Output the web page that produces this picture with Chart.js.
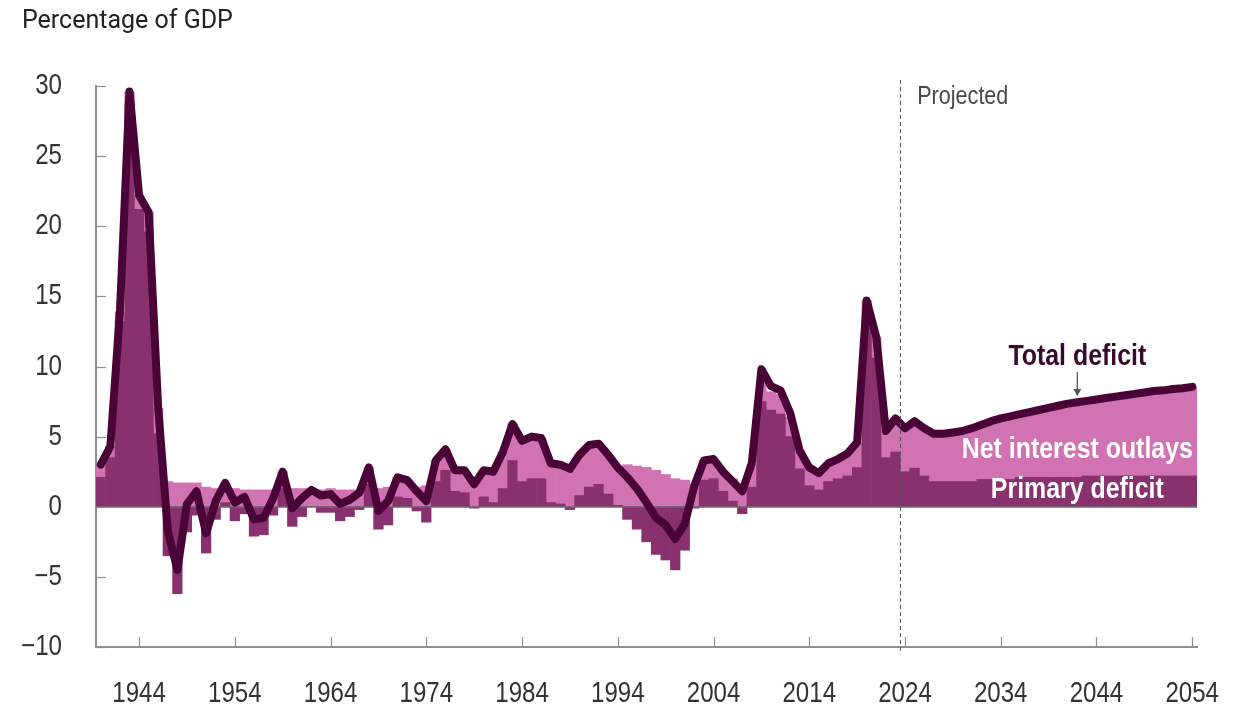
<!DOCTYPE html>
<html><head><meta charset="utf-8">
<script src="https://cdn.jsdelivr.net/npm/chart.js@4.4.1/dist/chart.umd.min.js"></script>
<style>html,body{margin:0;padding:0;background:#fff;}#wrap{width:1244px;height:708px;}</style>
</head><body><div id="wrap"><canvas id="c" width="1244" height="708"></canvas></div>
<script>
const years = [1940,1941,1942,1943,1944,1945,1946,1947,1948,1949,
1950,1951,1952,1953,1954,1955,1956,1957,1958,1959,
1960,1961,1962,1963,1964,1965,1966,1967,1968,1969,
1970,1971,1972,1973,1974,1975,1976,1977,1978,1979,
1980,1981,1982,1983,1984,1985,1986,1987,1988,1989,
1990,1991,1992,1993,1994,1995,1996,1997,1998,1999,
2000,2001,2002,2003,2004,2005,2006,2007,2008,2009,
2010,2011,2012,2013,2014,2015,2016,2017,2018,2019,
2020,2021,2022,2023,2024,2025,2026,2027,2028,2029,
2030,2031,2032,2033,2034,2035,2036,2037,2038,2039,
2040,2041,2042,2043,2044,2045,2046,2047,2048,2049,
2050,2051,2052,2053,2054];

const totalDeficit = [3.0,4.3,13.9,29.6,22.2,21.0,7.0,-1.7,-4.5,0.2,
1.1,-1.9,0.4,1.7,0.3,0.7,-0.9,-0.8,0.6,2.5,
-0.1,0.6,1.2,0.8,0.9,0.2,0.5,1.0,2.8,-0.3,
0.4,2.1,1.9,1.1,0.4,3.3,4.1,2.6,2.6,1.6,
2.6,2.5,3.9,5.9,4.7,5.0,4.9,3.1,3.0,2.7,
3.7,4.4,4.5,3.7,2.8,2.1,1.3,0.3,-0.8,-1.3,
-2.3,-1.2,1.5,3.3,3.4,2.5,1.8,1.1,3.1,9.8,
8.6,8.3,6.7,4.0,2.8,2.4,3.1,3.4,3.8,4.6,
14.7,12.1,5.4,6.3,5.6,6.1,5.6,5.2,5.2,5.3,
5.4,5.6,5.85,6.1,6.3,6.45,6.6,6.75,6.9,7.05,
7.2,7.35,7.45,7.55,7.65,7.75,7.85,7.95,8.05,8.15,
8.25,8.3,8.4,8.45,8.55];

const primaryDeficit = [2.1,3.5,13.2,28.8,21.2,19.6,5.2,-3.5,-6.2,-1.8,
-0.6,-3.3,-0.9,0.3,-1.0,-0.5,-2.1,-2.0,-0.6,1.3,
-1.4,-0.7,0.0,-0.4,-0.4,-1.0,-0.7,-0.2,1.6,-1.6,
-1.3,0.7,0.6,-0.3,-1.1,1.8,2.6,1.1,1.0,-0.1,
0.7,0.3,1.3,3.3,1.8,2.0,2.0,0.3,0.2,-0.2,
0.8,1.4,1.6,0.9,0.1,-0.9,-1.6,-2.5,-3.4,-3.8,
-4.5,-3.1,-0.1,1.9,2.0,1.1,0.4,-0.5,1.4,7.5,
6.9,6.6,5.0,2.7,1.5,1.2,1.8,2.0,2.2,2.8,
13.1,10.6,3.5,3.9,2.5,2.75,2.2,1.8,1.8,1.8,
1.8,1.8,1.95,1.95,1.95,1.95,2.1,2.1,2.1,2.1,
2.1,2.1,2.1,2.2,2.2,2.2,2.2,2.2,2.2,2.2,
2.2,2.2,2.2,2.2,2.2];

const netInterest = [0.9,0.8,0.7,0.8,1.0,1.4,1.8,1.8,1.7,1.7,
1.7,1.4,1.3,1.4,1.3,1.2,1.2,1.2,1.2,1.2,
1.3,1.3,1.2,1.2,1.3,1.2,1.2,1.2,1.2,1.3,
1.4,1.4,1.3,1.4,1.5,1.5,1.5,1.5,1.6,1.7,
1.9,2.2,2.6,2.6,2.9,3.0,2.9,2.8,2.8,2.9,
2.9,3.0,2.9,2.8,2.7,3.0,2.9,2.8,2.6,2.3,
2.0,1.9,1.6,1.4,1.3,1.4,1.6,1.6,1.6,1.3,
1.3,1.4,1.4,1.3,1.3,1.2,1.3,1.4,1.6,1.8,
1.6,1.5,1.9,2.4,3.1,3.35,3.4,3.4,3.4,3.5,
3.6,3.8,3.9,4.15,4.35,4.5,4.5,4.65,4.8,4.95,
5.1,5.25,5.35,5.35,5.45,5.55,5.65,5.75,5.85,5.95,
6.05,6.1,6.2,6.25,6.35];

const xTickYears = [1944,1954,1964,1974,1984,1994,2004,2014,2024,2034,2044,2054];
const yTickValues = [-10,-5,0,5,10,15,20,25,30];
const lastActualYear = 2023;

const COLORS = { line:'#4a0336', primary:'#89316f', interest:'#d172b2', axis:'#8f8f8f', zero:'#6b6b6b', text:'#333333' };
const SANS = "'Liberation Sans', Arial, sans-serif";
const NARROW_X = 0.83; // horizontal compression to emulate a narrow face

function narrowText(ctx, text, x, y, font, align, color) {
  ctx.save();
  ctx.translate(x, y);
  ctx.scale(NARROW_X, 1);
  ctx.font = font; ctx.fillStyle = color; ctx.textAlign = align; ctx.textBaseline = 'middle';
  ctx.fillText(text, 0, 0);
  ctx.restore();
}

const decor = {
  id: 'decor',
  beforeDatasetDraw(chart, args) {
    if (args.index !== 2) return;
    const {ctx, chartArea, scales:{y}} = chart;
    const y0 = Math.round(y.getPixelForValue(0));
    ctx.save();
    ctx.strokeStyle = COLORS.zero; ctx.lineWidth = 1.6;
    ctx.beginPath(); ctx.moveTo(chartArea.left, y0); ctx.lineTo(chartArea.right, y0); ctx.stroke();
    ctx.restore();
  },
  afterDraw(chart) {
    const {ctx, chartArea, scales:{x, y}} = chart;
    ctx.save();
    ctx.strokeStyle = COLORS.axis; ctx.lineWidth = 1.2;
    y.ticks.forEach(t => {
      const py = y.getPixelForValue(t.value);
      ctx.beginPath(); ctx.moveTo(chartArea.left, Math.round(py) + 0.5); ctx.lineTo(chartArea.left + 10, Math.round(py) + 0.5); ctx.stroke();
      const lbl = t.value < 0 ? '\u2212' + Math.abs(t.value) : String(t.value);
      narrowText(ctx, lbl, chartArea.left - 34, py, '29px ' + SANS, 'right', COLORS.text);
    });
    ctx.strokeStyle = COLORS.axis; ctx.lineWidth = 1.2;
    xTickYears.forEach(yr => {
      const px = x.getPixelForValue(years.indexOf(yr));
      ctx.beginPath(); ctx.moveTo(Math.round(px) + 0.5, chartArea.bottom); ctx.lineTo(Math.round(px) + 0.5, chartArea.bottom - 10); ctx.stroke();
      narrowText(ctx, String(yr), px, chartArea.bottom + 47, '29px ' + SANS, 'center', COLORS.text);
    });
    const i = years.indexOf(lastActualYear);
    const px = (x.getPixelForValue(i) + x.getPixelForValue(i + 1)) / 2;
    ctx.strokeStyle = '#555'; ctx.lineWidth = 1; ctx.setLineDash([4, 3]);
    ctx.beginPath(); ctx.moveTo(Math.round(px) + 0.5, chartArea.top - 6); ctx.lineTo(Math.round(px) + 0.5, chartArea.bottom + 5); ctx.stroke();
    ctx.setLineDash([]);
    narrowText(ctx, 'Projected', px + 17, y.getPixelForValue(29.2), '26px ' + SANS, 'left', '#4a4a4a');
    ctx.fillStyle = '#222'; ctx.font = "25px Roboto, 'Liberation Sans', sans-serif"; ctx.textBaseline = 'alphabetic'; ctx.textAlign = 'left';
    ctx.fillText('Percentage of GDP', 22, 28);
    const cx = x.getPixelForValue(years.indexOf(2042));
    narrowText(ctx, 'Total deficit', cx, y.getPixelForValue(10.7), 'bold 30px ' + SANS, 'center', '#3a0a2e');
    ctx.strokeStyle = '#555'; ctx.lineWidth = 1.3;
    const ay1 = y.getPixelForValue(9.6), ay2 = y.getPixelForValue(7.9);
    ctx.beginPath(); ctx.moveTo(cx, ay1); ctx.lineTo(cx, ay2 - 1); ctx.stroke();
    ctx.fillStyle = '#555';
    ctx.beginPath(); ctx.moveTo(cx - 4, ay2 - 7); ctx.lineTo(cx + 4, ay2 - 7); ctx.lineTo(cx, ay2); ctx.closePath(); ctx.fill();
    narrowText(ctx, 'Net interest outlays', cx, y.getPixelForValue(4.05), 'bold 30px ' + SANS, 'center', '#ffffff');
    narrowText(ctx, 'Primary deficit', cx, y.getPixelForValue(1.2), 'bold 30px ' + SANS, 'center', '#ffffff');
    ctx.restore();
  }
};

new Chart(document.getElementById('c'), {
  data: {
    labels: years,
    datasets: [
      { type:'bar', label:'Primary deficit', data: primaryDeficit, backgroundColor: COLORS.primary, stack:'deficit', order:1, barPercentage:1, categoryPercentage:1, borderWidth:0 },
      { type:'bar', label:'Net interest outlays', data: netInterest, backgroundColor: COLORS.interest, stack:'deficit', order:1, barPercentage:1, categoryPercentage:1, borderWidth:0 },
      { type:'line', label:'Total deficit', data: totalDeficit, borderColor: COLORS.line, borderWidth: 8, pointRadius:0, tension:0, stack:'total', order:0, borderJoinStyle:'round', borderCapStyle:'round' }
    ]
  },
  options: {
    responsive:false, animation:false, devicePixelRatio:1,
    layout:{ padding:{ top:86, right:47, left:0, bottom:0 } },
    plugins:{ legend:{display:false}, tooltip:{enabled:false}, title:{display:false} },
    scales:{
      x:{ type:'category', stacked:true, offset:true,
          grid:{ display:false },
          border:{ display:true, color:COLORS.axis, width:2 },
          ticks:{ display:false, autoSkip:false },
          afterFit:(s)=>{ s.height = 61; s.paddingLeft = 0; s.paddingRight = 0; } },
      y:{ stacked:true, min:-10, max:30,
          grid:{ display:false },
          border:{ display:true, color:COLORS.axis, width:2 },
          ticks:{ display:false, stepSize:5 },
          afterFit:(s)=>{ s.width = 96; s.paddingTop = 0; s.paddingBottom = 0; } }
    }
  },
  plugins:[decor]
});
</script>
</body></html>
